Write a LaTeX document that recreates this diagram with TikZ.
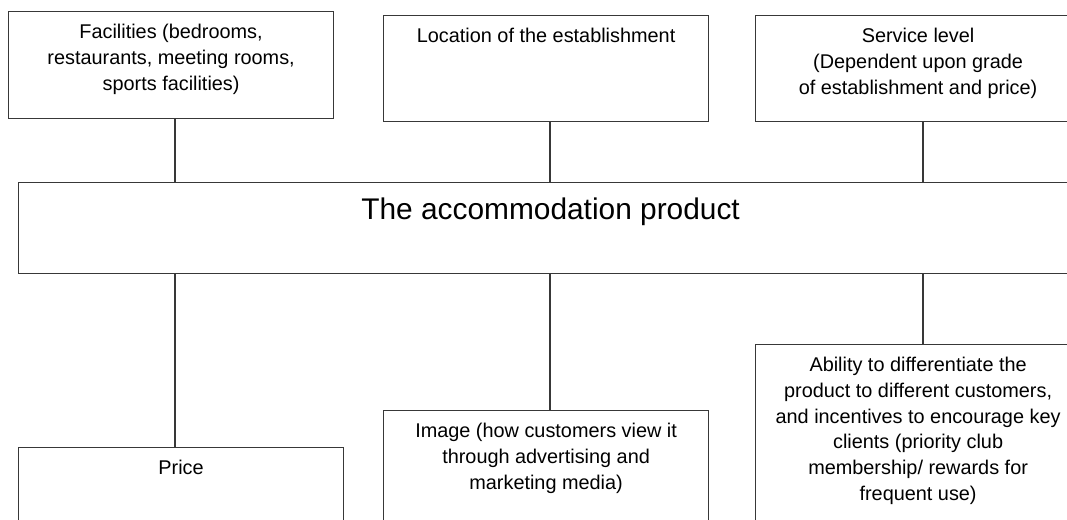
\documentclass[tikz,border=0pt]{standalone}
\usepackage{fontspec}
\setmainfont{Liberation Sans}
\usetikzlibrary{positioning}

% box contents: width, height, text (first baseline 20pt below the top)
\newcommand\boxtext[3]{\parbox[t][#2][t]{#1}{\centering\rule{0pt}{20.3pt}#3\par}}

\begin{document}
\begin{tikzpicture}[
    x=0.75pt, y=-0.75pt,
    box/.style={draw=black!78, line width=0.9pt, anchor=north west, inner sep=0pt, font=\fontsize{14.9}{19.3}\selectfont},
    link/.style={draw=black!78, line width=0.9pt}
  ]
  \useasboundingbox (0,0) rectangle (1067,519);
  \clip (0,0) rectangle (1067,519);

  % top row
  \node[box] (fac) at (8,11) {\boxtext{243.75pt}{80.25pt}{Facilities (bedrooms,\\ restaurants, meeting rooms,\\ sports facilities)}};
  \node[box] (loc) at (383,15) {\boxtext{243.75pt}{79.5pt}{Location of the establishment}};
  \node[box] (serv) at (755,15) {\boxtext{243.75pt}{79.5pt}{Service level\\ (Dependent upon grade\\ of establishment and price)}};

  % centre
  \node[box] (main) at (18,182) {\parbox[t][68.25pt][t]{798pt}{\centering\fontsize{22.4}{26}\selectfont\rule{0pt}{28pt}The accommodation product\par}};

  % bottom row
  \node[box] (price) at (18,447) {\boxtext{243.75pt}{80pt}{Price}};
  \node[box] (image) at (383,410) {\boxtext{243.75pt}{90pt}{Image (how customers view it\\ through advertising and\\ marketing media)}};
  \node[box] (diff) at (755,344) {\boxtext{243.75pt}{140pt}{Ability to differentiate the\\ product to different customers,\\ and incentives to encourage key\\ clients (priority club\\ membership/ rewards for\\ frequent use)}};

  \coordinate (c1) at (175,0);
  \coordinate (c2) at (550,0);
  \coordinate (c3) at (923,0);

  \draw[link] (fac.south -| c1) -- (main.north -| c1);
  \draw[link] (loc.south -| c2) -- (main.north -| c2);
  \draw[link] (serv.south -| c3) -- (main.north -| c3);
  \draw[link] (main.south -| c1) -- (price.north -| c1);
  \draw[link] (main.south -| c2) -- (image.north -| c2);
  \draw[link] (main.south -| c3) -- (diff.north -| c3);
\end{tikzpicture}
\end{document}
